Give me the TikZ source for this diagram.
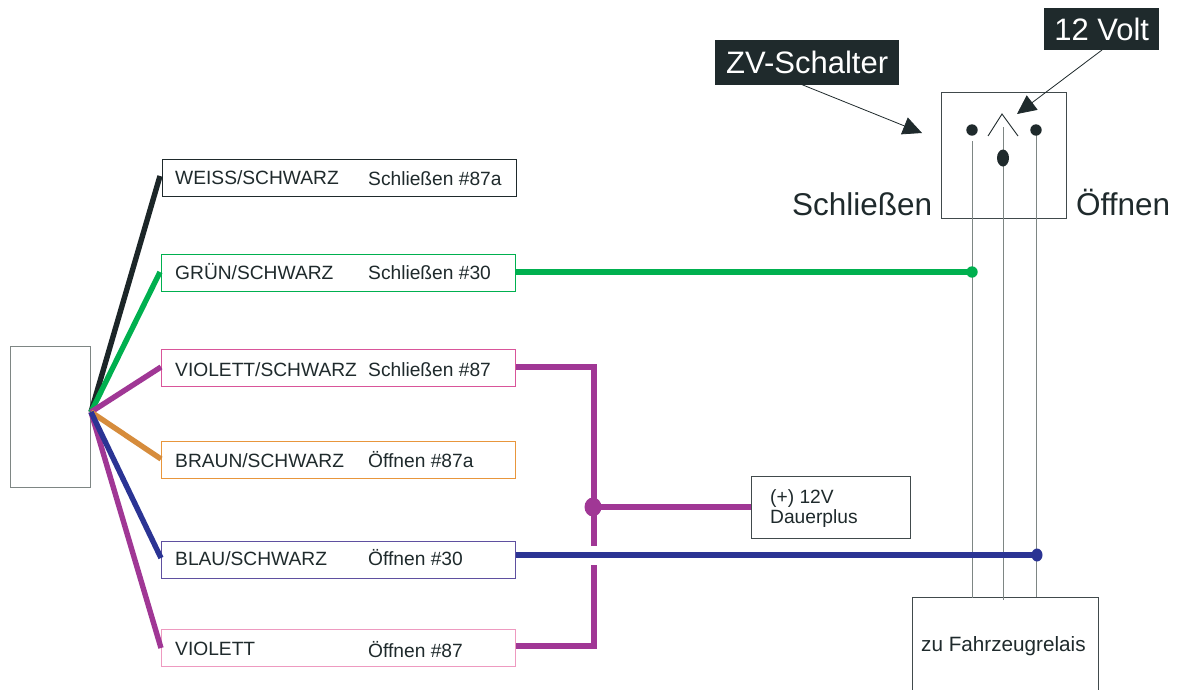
\documentclass[tikz,border=0pt]{standalone}
\usepackage{fontspec}
\setmainfont{Liberation Sans}
\usetikzlibrary{arrows.meta}
\definecolor{ink}{HTML}{1F2A2C}
\definecolor{grn}{HTML}{00B04F}
\definecolor{vio}{HTML}{A03795}
\definecolor{edgepink}{HTML}{D9559A}
\definecolor{edgerose}{HTML}{EE9AC0}
\definecolor{orng}{HTML}{D68C3C}
\definecolor{edgeorange}{HTML}{E8963C}
\definecolor{blu}{HTML}{2B3494}
\definecolor{edgeblue}{HTML}{5F50A0}
\definecolor{gry}{HTML}{7E8684}
\tikzset{
  x=1pt,y=-1pt,
  boxed/.style={line width=1.3pt,fill=white,inner sep=0pt,anchor=north west,minimum width=354pt,minimum height=37pt},
  plain/.style={draw=ink!85,line width=1.3pt,inner sep=0pt,anchor=north west},
  txt/.style={text=ink,font=\fontsize{19.2}{22}\selectfont,inner sep=0pt,anchor=base west},
  big/.style={text=ink,font=\fontsize{31.5}{36}\selectfont,inner sep=0pt,anchor=base west},
  tag/.style={fill=ink,text=white,font=\fontsize{31}{36}\selectfont,inner sep=0pt,anchor=north west},
  wire/.style={line width=5.4pt},
  thin wire/.style={draw=gry,line width=1.3pt},
  pointer/.style={draw=ink,line width=.8pt,-{Triangle[length=19pt,width=18pt,fill=ink]}},
}
\begin{document}
\begin{tikzpicture}
\clip (0,0) rectangle (1179,689);
\fill[white] (0,0) rectangle (1179,689);
% boxes
\node[plain,draw=gry,line width=1.2pt,minimum width=80pt,minimum height=141pt] (conn) at (9.7,346) {};
\coordinate (hub) at (91,412);
\node[boxed,draw=ink] (ws) at (162,159) {};
\node[boxed,draw=grn] (gs) at (161,254) {};
\node[boxed,draw=edgepink] (vs) at (161,349) {};
\node[boxed,draw=edgeorange] (bn) at (161,441) {};
\node[boxed,draw=edgeblue] (bl) at (161,541) {};
\node[boxed,draw=edgerose] (vi) at (161,629) {};
\node[plain,minimum width=159pt,minimum height=62pt] (plus) at (751,476) {};
\node[plain,minimum width=186pt,minimum height=110pt] (relay) at (912,597) {};
\node[plain,minimum width=125pt,minimum height=126pt] (sw) at (941,92) {};
% fan
\coordinate (fw) at (160,176);
\coordinate (fg) at (160,272);
\coordinate (fv) at (161,367);
\coordinate (fb) at (161,459);
\coordinate (fl) at (161,558);
\coordinate (fo) at (161,648);
\draw[wire,draw=ink!90!black] (hub) -- (fw);
\draw[wire,draw=grn] (hub) -- (fg);
\draw[wire,draw=vio] (hub) -- (fv);
\draw[wire,draw=orng] (hub) -- (fb);
\draw[wire,draw=vio] (hub) -- (fo);
\draw[wire,draw=blu] (hub) -- (fl);
% switch
\coordinate (wa) at (972.5,141);
\coordinate (wb) at (1003.4,127);
\coordinate (wc) at (1036.5,130);
\coordinate (ra) at (972.5,598);
\coordinate (rb) at (1003.4,600);
\coordinate (rc) at (1036.5,597);
\draw[thin wire] (wa) -- (ra);
\draw[thin wire] (wb) -- (rb);
\draw[thin wire] (wc) -- (rc);
\fill[ink] (972,130) circle (5.7);
\fill[ink] (1036,130) circle (5.7);
\fill[ink] (1003,158) ellipse (6 and 8.5);
\coordinate (cha) at (988,136);
\coordinate (chb) at (1002,114);
\coordinate (chc) at (1018,136);
\draw[ink,line width=.9pt] (cha) -- (chb) -- (chc);
% purple bus
\coordinate (ptop) at (594,367);
\coordinate (pbot) at (594,646);
\coordinate (pj) at (593,507);
\draw[wire,draw=vio,line join=miter] (vs.east |- ptop) -- (ptop) -- (pbot) -- (vi.east |- pbot);
\draw[wire,draw=vio] (pj) -- (plus.west |- pj);
\fill[vio] (pj) ellipse (8.5 and 9.5);
% crossing gap
\fill[white] (589,546) rectangle (600,565);
% coloured runs
\coordinate (gd) at (972,272);
\coordinate (bd) at (1037,555);
\draw[wire,draw=grn] (gs.east |- gd) -- (gd);
\draw[wire,draw=blu] (bl.east |- bd) -- (bd);
\fill[grn] (gd) circle (5.7);
\fill[blu] (bd) ellipse (5.5 and 6.5);
% tags
\node[tag,minimum width=184pt,minimum height=45pt] (zv) at (715,40) {ZV-Schalter};
\node[tag,minimum width=115pt,minimum height=42pt] (tv) at (1044,8) {\raisebox{-1.5pt}{12 Volt}};
\coordinate (zvs) at (783,77);
\coordinate (zvt) at (922,133);
\coordinate (tvs) at (1102,50);
\coordinate (tvt) at (1017,114);
\draw[pointer] (zvs) -- (zvt);
\draw[pointer] (tvs) -- (tvt);
% labels
\node[big] (l1) at (792,215) {Schließen};
\node[big] (l2) at (1076,215) {Öffnen};
\node[txt] (a1) at (175,184) {WEISS/SCHWARZ};
\node[txt] (b1) at (368,185) {Schließen \#87a};
\node[txt] (a2) at (175,279) {GRÜN/SCHWARZ};
\node[txt] (b2) at (368,279) {Schließen \#30};
\node[txt] (a3) at (175,376) {VIOLETT/SCHWARZ};
\node[txt] (b3) at (368,376) {Schließen \#87};
\node[txt] (a4) at (175,467) {BRAUN/SCHWARZ};
\node[txt] (b4) at (368,467) {Öffnen \#87a};
\node[txt] (a5) at (175,565) {BLAU/SCHWARZ};
\node[txt] (b5) at (368,565) {Öffnen \#30};
\node[txt] (a6) at (175,655) {VIOLETT};
\node[txt] (b6) at (368,657) {Öffnen \#87};
\node[txt] (p1) at (770,503) {(+) 12V};
\node[txt] (p2) at (770,523) {Dauerplus};
\node[txt,font=\fontsize{20.7}{24}\selectfont] (r1) at (921,651) {zu Fahrzeugrelais};
\end{tikzpicture}
\end{document}
